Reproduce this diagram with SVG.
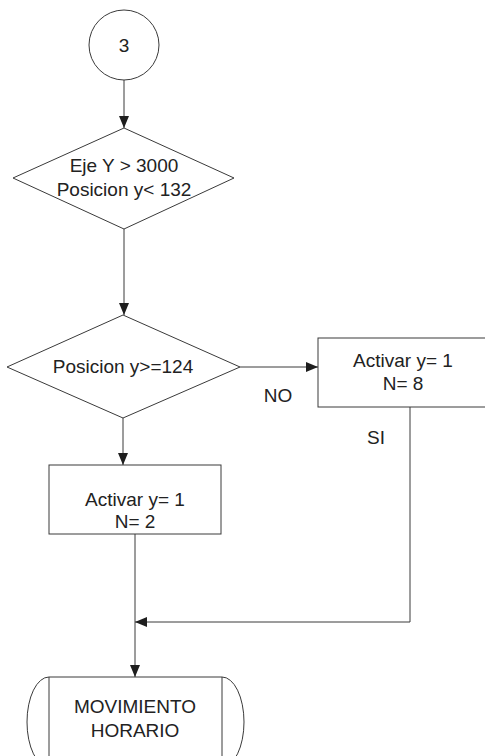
<svg xmlns="http://www.w3.org/2000/svg" width="485" height="756" viewBox="0 0 485 756">
  <style>
    .shape { fill: #ffffff; stroke: #3a3a3a; stroke-width: 1; }
    .edge { fill: none; stroke: #3a3a3a; stroke-width: 1; }
    .label { font-family: "Liberation Sans", Arial, sans-serif; font-size: 19px; fill: #222222; text-anchor: middle; }
  </style>
  <defs>
    <marker id="arrow" viewBox="0 0 12 10" refX="12" refY="5" markerWidth="12" markerHeight="10" markerUnits="userSpaceOnUse" orient="auto">
      <path d="M0,0 L12,5 L0,10 Z" fill="#1e1e1e"/>
    </marker>
  </defs>
  <rect width="485" height="756" fill="#ffffff"/>

  <g id="connectors">
    <line class="edge" x1="124" y1="80" x2="124" y2="128" marker-end="url(#arrow)"/>
    <line class="edge" x1="124" y1="229" x2="124" y2="315" marker-end="url(#arrow)"/>
    <line class="edge" x1="240" y1="367" x2="318" y2="367" marker-end="url(#arrow)"/>
    <line class="edge" x1="123" y1="418" x2="123" y2="465" marker-end="url(#arrow)"/>
    <polyline class="edge" points="410,407 410,622 135,622" marker-end="url(#arrow)"/>
    <line class="edge" x1="135" y1="534" x2="135" y2="677" marker-end="url(#arrow)"/>
    <text class="label" x="278" y="402">NO</text>
    <text class="label" x="376" y="444">SI</text>
  </g>

  <g id="connector-3">
    <circle class="shape" cx="124" cy="45" r="35"/>
    <text class="label" x="124" y="52">3</text>
  </g>

  <g id="check-eje-y">
    <polygon class="shape" points="124,128 234,178 124,229 13,178"/>
    <text class="label" x="124" y="172">Eje Y &gt; 3000</text>
    <text class="label" x="124" y="196">Posicion y&lt; 132</text>
  </g>

  <g id="check-posicion">
    <polygon class="shape" points="123,315 240,367 123,418 7,367"/>
    <text class="label" x="123" y="373">Posicion y&gt;=124</text>
  </g>

  <g id="activar-n8">
    <rect class="shape" x="318" y="338" width="170" height="69"/>
    <text class="label" x="403" y="367">Activar y= 1</text>
    <text class="label" x="403" y="390">N= 8</text>
  </g>

  <g id="activar-n2">
    <rect class="shape" x="49" y="465" width="172" height="69"/>
    <text class="label" x="135" y="506">Activar y= 1</text>
    <text class="label" x="135" y="528">N= 2</text>
  </g>

  <g id="movimiento-horario">
    <path class="shape" d="M49,677 L222,677 L222,767 L49,767 Z"/>
    <path class="edge" d="M49,677 A22,45 0 0 0 49,767"/>
    <path class="edge" d="M222,677 A22,45 0 0 1 222,767"/>
    <text class="label" x="135" y="713">MOVIMIENTO</text>
    <text class="label" x="135" y="737">HORARIO</text>
  </g>
</svg>
